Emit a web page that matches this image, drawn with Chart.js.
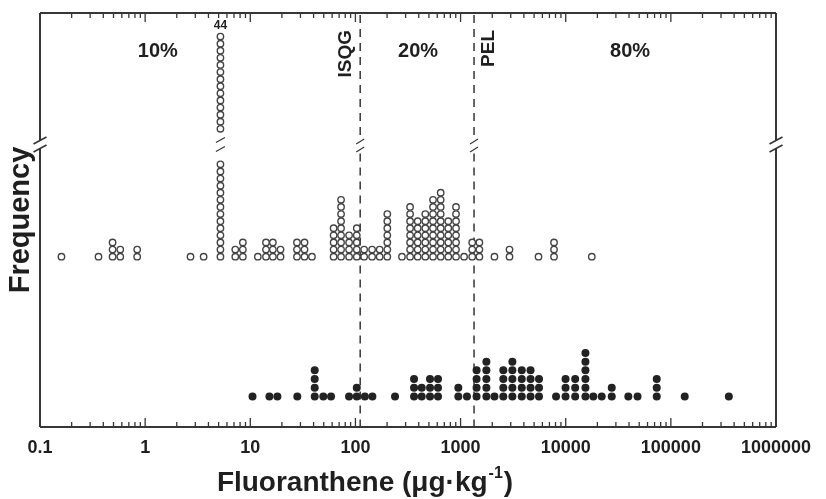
<!DOCTYPE html>
<html>
<head>
<meta charset="utf-8">
<script src="https://cdn.jsdelivr.net/npm/chart.js@4.4.1/dist/chart.umd.min.js"></script>
<style>
  html, body { margin: 0; padding: 0; background: #fff; }
  #wrap { width: 826px; height: 499px; }
</style>
</head>
<body>
<div id="wrap"><canvas id="chart" width="826" height="499"></canvas></div>
<script>
// Fluoranthene dot plot: open circles = no effect, filled = effect

// axis ticks
const tickValues = [0.1, 1, 10, 100, 1000, 10000, 100000, 1000000];
const tickLabels = ['0.1', '1', '10', '100', '1000', '10000', '100000', '1000000'];

// no-effect samples (concentration bin, number of samples)
const openConc = [0.16, 0.36, 0.49, 0.58, 0.84, 2.7, 3.6, 5.2, 7.2, 8.5, 11.8, 14.1, 16.4, 19.4,
  27.8, 32.8, 38.6, 62, 73, 87, 103, 121, 144, 170, 201, 277, 331, 391, 462, 547, 647, 764, 905,
  1080, 1290, 1510, 2100, 2920, 5510, 7740, 17700];
const openCount = [1, 1, 3, 2, 2, 1, 1, 44, 2, 3, 1, 3, 3, 2,
  3, 3, 1, 5, 9, 4, 5, 2, 2, 2, 7, 1, 8, 6, 7, 9, 10, 6, 8,
  1, 3, 3, 1, 2, 1, 3, 1];

// effect samples
const effectConc = [10.5, 15.2, 18.1, 28, 41, 49.5, 58.6, 87, 103, 123, 145, 238, 361, 427, 512, 610,
  952, 1150, 1420, 1760, 2100, 2550, 3110, 3820, 4630, 5570, 8090, 9960, 12300, 15400, 18300, 22000,
  27400, 39400, 48200, 73400, 135500, 356000];
const effectCount = [1, 1, 1, 1, 4, 1, 1, 1, 2, 1, 1, 1, 3, 2, 3, 3,
  2, 1, 4, 5, 1, 4, 5, 4, 4, 3, 1, 3, 3, 6, 1, 1,
  2, 1, 1, 3, 1, 1];

// guidelines
const guideValues = [111, 1343];
const guideLabels = ['ISQG', 'PEL'];

// incidence of effects in each range
const zoneLabels = ['10%', '20%', '80%'];

const FONT = '"Liberation Sans", Arial, Helvetica, sans-serif';
const INK = '#363636';
const TEXT = '#1f1f1f';

// a stack taller than below+above gets cut by the axis break
const COLUMN_BREAK = { below: 14, above: 14, resume: 19 };
const BREAK_LEVEL = 16.8;

function stackDots(conc, counts) {
  const pts = [];
  conc.forEach((x, i) => {
    const n = counts[i];
    const cut = n > COLUMN_BREAK.below + COLUMN_BREAK.above;
    for (let k = 1; k <= n; k++) {
      if (!cut || k <= COLUMN_BREAK.below) {
        pts.push({ x, y: k });
      } else if (k > n - COLUMN_BREAK.above) {
        pts.push({ x, y: k - (n - COLUMN_BREAK.above) + COLUMN_BREAK.resume - 1 });
      }
    }
  });
  return pts;
}

function slashPair(ctx, px, py, w, h, sep) {
  [-sep / 2, sep / 2].forEach(dy => {
    ctx.beginPath();
    ctx.moveTo(px - w / 2, py + dy + h / 2);
    ctx.lineTo(px + w / 2, py + dy - h / 2);
    ctx.stroke();
  });
}

const decorations = {
  id: 'decorations',
  beforeDraw(chart) {
    const ctx = chart.ctx;
    ctx.save();
    ctx.fillStyle = '#fff';
    ctx.fillRect(0, 0, chart.width, chart.height);
    ctx.restore();
  },
  beforeDatasetsDraw(chart) {
    // dashed guideline markers, broken at the axis break
    const { ctx, chartArea: a, scales: { x, yOpen } } = chart;
    const yb = yOpen.getPixelForValue(BREAK_LEVEL);
    ctx.save();
    ctx.strokeStyle = INK;
    ctx.lineWidth = 1.5;
    guideValues.forEach((v, i) => {
      const px = x.getPixelForValue(v);
      ctx.setLineDash([8, 6]);
      ctx.beginPath();
      ctx.moveTo(px, a.top + 2);
      ctx.lineTo(px, yb - 7);
      ctx.moveTo(px, yb + 9);
      ctx.lineTo(px, a.bottom);
      ctx.stroke();
      ctx.setLineDash([]);
      ctx.lineWidth = 1.2;
      slashPair(ctx, px, yb + 1, 8, 5, 8);
      ctx.lineWidth = 1.5;

      ctx.save();
      ctx.fillStyle = TEXT;
      ctx.font = 'bold 19px ' + FONT;
      ctx.translate(px + (i === 0 ? -14 : 15), a.top + 17);
      ctx.rotate(-Math.PI / 2);
      ctx.textAlign = 'right';
      ctx.textBaseline = 'middle';
      ctx.fillText(guideLabels[i], 0, 0);
      ctx.restore();
    });
    ctx.restore();
  },
  afterDatasetsDraw(chart) {
    const { ctx, chartArea: a, scales: { x, yOpen } } = chart;
    const yb = yOpen.getPixelForValue(BREAK_LEVEL);
    ctx.save();
    ctx.strokeStyle = INK;
    ctx.lineWidth = 2;

    // frame, left and right sides broken
    ctx.beginPath();
    ctx.moveTo(a.left, a.top); ctx.lineTo(a.right, a.top);
    ctx.moveTo(a.left, a.bottom); ctx.lineTo(a.right, a.bottom);
    [a.left, a.right].forEach(px => {
      ctx.moveTo(px, a.top); ctx.lineTo(px, yb - 4);
      ctx.moveTo(px, yb + 4); ctx.lineTo(px, a.bottom);
    });
    ctx.stroke();
    ctx.lineWidth = 1.6;
    slashPair(ctx, a.left, yb, 13, 7, 8);
    slashPair(ctx, a.right, yb, 13, 7, 8);

    // log ticks on top and bottom, pointing inward
    ctx.lineWidth = 1.3;
    ctx.beginPath();
    tickValues.forEach((dec, i) => {
      const px = x.getPixelForValue(dec);
      ctx.moveTo(px, a.bottom); ctx.lineTo(px, a.bottom - 9);
      ctx.moveTo(px, a.top); ctx.lineTo(px, a.top + 9);
      if (i === tickValues.length - 1) return;
      for (let m = 2; m <= 9; m++) {
        const mx = x.getPixelForValue(dec * m);
        ctx.moveTo(mx, a.bottom); ctx.lineTo(mx, a.bottom - 5);
        ctx.moveTo(mx, a.top); ctx.lineTo(mx, a.top + 5);
      }
    });
    ctx.stroke();

    // break across the tall stack, with its count on top
    openConc.forEach((c, i) => {
      const n = openCount[i];
      if (n <= COLUMN_BREAK.below + COLUMN_BREAK.above) return;
      const px = x.getPixelForValue(c);
      ctx.lineWidth = 1.2;
      slashPair(ctx, px, yb, 9, 5, 9);
      const topY = yOpen.getPixelForValue(COLUMN_BREAK.resume + COLUMN_BREAK.above - 1);
      ctx.fillStyle = TEXT;
      ctx.font = 'bold 12px ' + FONT;
      ctx.textAlign = 'center';
      ctx.textBaseline = 'middle';
      ctx.fillText(String(n), px, topY - 11);
    });

    // zone percentages
    const zoneAt = [1.32, 394, 40900];
    ctx.fillStyle = TEXT;
    ctx.font = 'bold 20px ' + FONT;
    ctx.textAlign = 'center';
    ctx.textBaseline = 'middle';
    zoneLabels.forEach((t, i) => ctx.fillText(t, x.getPixelForValue(zoneAt[i]), a.top + 38));

    // x-axis title with superscript unit
    const base = 'Fluoranthene (\u03bcg\u00b7kg';
    const sup = '-1';
    ctx.font = 'bold 28px ' + FONT;
    const wBase = ctx.measureText(base).width;
    const wClose = ctx.measureText(')').width;
    ctx.font = 'bold 16px ' + FONT;
    const wSup = ctx.measureText(sup).width;
    let tx = 364 - (wBase + wSup + wClose) / 2;
    const ty = chart.height - 16;
    ctx.textAlign = 'left';
    ctx.textBaseline = 'middle';
    ctx.font = 'bold 28px ' + FONT;
    ctx.fillText(base, tx, ty);
    tx += wBase;
    ctx.font = 'bold 16px ' + FONT;
    ctx.fillText(sup, tx + 1, ty - 9);
    tx += wSup + 2;
    ctx.font = 'bold 28px ' + FONT;
    ctx.fillText(')', tx, ty);
    ctx.restore();
  }
};

new Chart(document.getElementById('chart'), {
  type: 'scatter',
  data: {
    datasets: [
      {
        label: 'No effect',
        data: stackDots(openConc, openCount),
        yAxisID: 'yOpen',
        pointStyle: 'circle',
        pointRadius: 3.2,
        pointBorderWidth: 1.4,
        pointBorderColor: '#444',
        pointBackgroundColor: '#fff'
      },
      {
        label: 'Effect',
        data: stackDots(effectConc, effectCount),
        yAxisID: 'yEffect',
        pointStyle: 'circle',
        pointRadius: 4,
        pointBorderWidth: 0,
        pointBackgroundColor: '#222'
      }
    ]
  },
  options: {
    responsive: false,
    animation: false,
    events: [],
    layout: { padding: { top: 13, right: 50, bottom: 0, left: 0 } },
    plugins: { legend: { display: false }, tooltip: { enabled: false } },
    scales: {
      x: {
        type: 'logarithmic',
        min: 0.1,
        max: 1000000,
        afterBuildTicks: s => { s.ticks = tickValues.map(v => ({ value: v })); },
        afterFit: s => { s.height = 72; },
        ticks: {
          callback: (v, i) => tickLabels[i],
          autoSkip: false,
          maxRotation: 0,
          padding: 10,
          color: TEXT,
          font: { family: FONT, size: 18, weight: 'bold' }
        },
        grid: { display: false, drawTicks: false },
        border: { display: false },
        title: { display: false }
      },
      yOpen: {
        type: 'linear',
        position: 'left',
        min: -22.99,
        max: 35.32,
        afterFit: s => { s.width = 40; },
        ticks: { display: false },
        grid: { display: false, drawTicks: false },
        border: { display: false },
        title: {
          display: true,
          text: 'Frequency',
          color: TEXT,
          font: { family: FONT, size: 29, weight: 'bold' },
          padding: { top: 4, bottom: 0 }
        }
      },
      yEffect: {
        type: 'linear',
        display: false,
        min: -2.51,
        max: 45.08
      }
    }
  },
  plugins: [decorations]
});
</script>
</body>
</html>
